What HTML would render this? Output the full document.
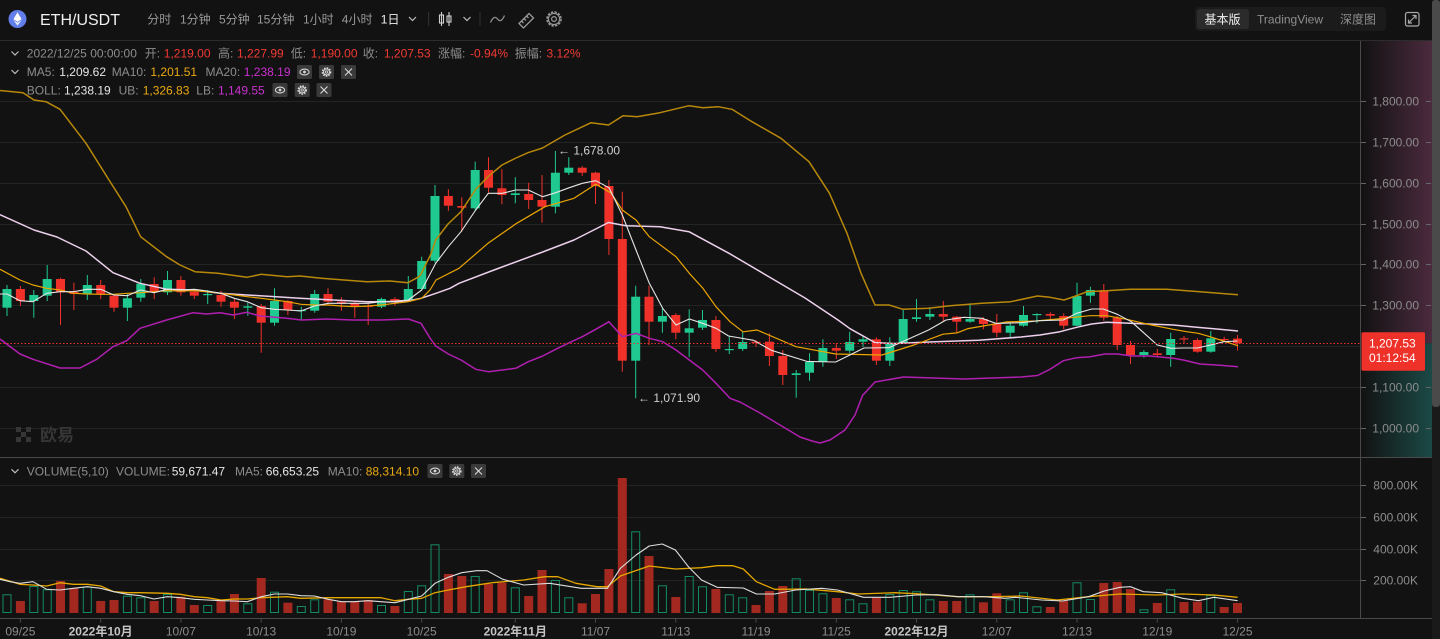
<!DOCTYPE html>
<html><head><meta charset="utf-8"><style>
html,body{margin:0;padding:0;background:#121212;width:1440px;height:639px;overflow:hidden}
svg{display:block;font-family:"Liberation Sans","Noto Sans CJK SC",sans-serif}
</style></head><body>
<svg width="1440" height="639" viewBox="0 0 1440 639" xmlns="http://www.w3.org/2000/svg">
<defs>
<linearGradient id="gp" x1="0" x2="1" y1="0" y2="0"><stop offset="0" stop-color="#4b2a3d" stop-opacity="0"/><stop offset="1" stop-color="#4b2a3d"/></linearGradient>
<linearGradient id="gt" x1="0" x2="1" y1="0" y2="0"><stop offset="0" stop-color="#1b4a46" stop-opacity="0"/><stop offset="1" stop-color="#1b4a46"/></linearGradient>
<g id="eye"><rect width="15" height="14" rx="1.5" fill="#3a3a3a"/><ellipse cx="7.5" cy="7" rx="4.6" ry="2.9" fill="none" stroke="#d8d8d8" stroke-width="1.1"/><circle cx="7.5" cy="7" r="1.4" fill="#d8d8d8"/></g>
<g id="gear"><rect width="15" height="14" rx="1.5" fill="#3a3a3a"/><circle cx="7.5" cy="7" r="4" fill="none" stroke="#d8d8d8" stroke-width="1.6" stroke-dasharray="1.6 1.1"/><circle cx="7.5" cy="7" r="3" fill="none" stroke="#d8d8d8" stroke-width="1"/><circle cx="7.5" cy="7" r="1.2" fill="none" stroke="#d8d8d8" stroke-width="0.9"/></g>
<g id="xx"><rect width="15" height="14" rx="1.5" fill="#3a3a3a"/><path d="M4 3.5L11 10.5M11 3.5L4 10.5" stroke="#d8d8d8" stroke-width="1.1"/></g>
<path id="chev" d="M0 0L3.5 3.5L7 0" fill="none" stroke="#bdbdbd" stroke-width="1.2"/>
</defs>

<!-- right axis gradient -->
<rect x="1361" y="41" width="71" height="302.3" fill="url(#gp)"/>
<rect x="1361" y="343.3" width="71" height="114" fill="url(#gt)"/>
<!-- scrollbar -->
<rect x="1432" y="0" width="8" height="639" fill="#1a1a1a"/>
<rect x="1432" y="0" width="8" height="407" rx="3" fill="#4a4a4a"/>

<!-- top bar -->
<line x1="0" y1="40.5" x2="1432" y2="40.5" stroke="#2c2c2c"/>
<circle cx="17.5" cy="19" r="9" fill="#627eea"/>
<polygon points="17.5,12.3 21.6,19.3 17.5,21.7 13.4,19.3" fill="#fff"/>
<polygon points="17.5,22.6 21.6,20.2 17.5,25.6 13.4,20.2" fill="#fff" opacity="0.85"/>
<text x="40" y="25" font-size="16" fill="#f0f0f0" font-weight="500">ETH/USDT</text>
<g font-size="12" fill="#9a9a9a">
<text x="147.3" y="23.5">分时</text>
<text x="180" y="23.5">1分钟</text>
<text x="219" y="23.5">5分钟</text>
<text x="257" y="23.5">15分钟</text>
<text x="303" y="23.5">1小时</text>
<text x="341.8" y="23.5">4小时</text>
<text x="380.8" y="23.5" fill="#f0f0f0">1日</text>
</g>
<use href="#chev" x="409" y="17"/>
<line x1="428.6" y1="12" x2="428.6" y2="26" stroke="#333"/>
<g stroke="#cfcfcf" stroke-width="1.1" fill="none">
<path d="M441.5 12V26M449 12V26"/><rect x="439.5" y="15" width="4" height="8"/><rect x="447" y="16" width="4" height="6"/>
</g>
<use href="#chev" x="463.5" y="17"/>
<line x1="480" y1="12" x2="480" y2="26" stroke="#333"/>
<path d="M490.5 22.5Q494 14.5 497.5 19Q501 23.5 504.5 15.5" fill="none" stroke="#8a8a8a" stroke-width="1.3"/>
<g stroke="#9a9a9a" stroke-width="1.3" fill="none"><path d="M519 23.5L529 13.5L533.5 18L523.5 28Z M524 18.5L526 20.5M526.5 16L528.5 18M521.5 21L523.5 23"/></g>
<circle cx="554" cy="19" r="7" fill="none" stroke="#9a9a9a" stroke-width="1.5" stroke-dasharray="2.4 1.3"/>
<circle cx="554" cy="19" r="5.6" fill="none" stroke="#9a9a9a" stroke-width="1.1"/>
<circle cx="554" cy="19" r="2.4" fill="none" stroke="#9a9a9a" stroke-width="1.2"/>
<!-- segmented -->
<rect x="1195" y="7" width="191" height="24" rx="4" fill="#1b1b1b"/>
<rect x="1197" y="9" width="52" height="20" rx="3" fill="#2b2b2b"/>
<text x="1222.5" y="23.3" font-size="12" fill="#f0f0f0" text-anchor="middle">基本版</text>
<text x="1290" y="23.3" font-size="12" fill="#8e8e8e" text-anchor="middle">TradingView</text>
<text x="1358" y="23.3" font-size="12" fill="#8e8e8e" text-anchor="middle">深度图</text>
<g stroke="#a8a8a8" stroke-width="1.2" fill="none"><rect x="1405.5" y="12.5" width="13.5" height="13.5" rx="2"/><path d="M1408.5 23L1416 15.5M1412.5 15.5H1416V19M1408.5 19.5V23H1412"/></g>

<!-- legend -->
<use href="#chev" x="11.5" y="51.5"/>
<g font-size="12">
<text x="26.8" y="57.5" fill="#8d8d8d">2022/12/25 00:00:00</text>
<text x="144.7" y="57.5" fill="#8d8d8d">开:</text><text x="163.8" y="57.5" fill="#f23a33">1,219.00</text>
<text x="218" y="57.5" fill="#8d8d8d">高:</text><text x="237" y="57.5" fill="#f23a33">1,227.99</text>
<text x="290.8" y="57.5" fill="#8d8d8d">低:</text><text x="310.8" y="57.5" fill="#f23a33">1,190.00</text>
<text x="362.8" y="57.5" fill="#8d8d8d">收:</text><text x="383.9" y="57.5" fill="#f23a33">1,207.53</text>
<text x="438" y="57.5" fill="#8d8d8d">涨幅:</text><text x="470" y="57.5" fill="#f23a33">-0.94%</text>
<text x="514.7" y="57.5" fill="#8d8d8d">振幅:</text><text x="546.5" y="57.5" fill="#f23a33">3.12%</text>
</g>
<use href="#chev" x="11.5" y="70"/>
<g font-size="12">
<text x="26.8" y="76" fill="#8d8d8d">MA5:</text><text x="59.3" y="76" fill="#e6e6e6">1,209.62</text>
<text x="111.7" y="76" fill="#8d8d8d">MA10:</text><text x="150.4" y="76" fill="#e9a912">1,201.51</text>
<text x="205.5" y="76" fill="#8d8d8d">MA20:</text><text x="243.8" y="76" fill="#c931cf">1,238.19</text>
</g>
<use href="#eye" x="297" y="65"/><use href="#gear" x="319" y="65"/><use href="#xx" x="341" y="65"/>
<g font-size="12">
<text x="26.8" y="94.3" fill="#8d8d8d">BOLL:</text><text x="64" y="94.3" fill="#e6e6e6">1,238.19</text>
<text x="118.6" y="94.3" fill="#8d8d8d">UB:</text><text x="142.7" y="94.3" fill="#e9a912">1,326.83</text>
<text x="196.3" y="94.3" fill="#8d8d8d">LB:</text><text x="218" y="94.3" fill="#c931cf">1,149.55</text>
</g>
<use href="#eye" x="272.5" y="83"/><use href="#gear" x="294.7" y="83"/><use href="#xx" x="316.5" y="83"/>

<!-- gridlines price -->
<g stroke="#242424" stroke-width="1">
<path d="M0 101.5H1360M0 142.5H1360M0 183.5H1360M0 224.5H1360M0 264.5H1360M0 305.5H1360M0 346.5H1360M0 387.5H1360M0 428.5H1360"/>
<path d="M0 485.5H1360M0 517.5H1360M0 549.5H1360M0 580.5H1360"/>
</g>
<!-- ticks -->
<g stroke="#666" stroke-width="1">
<path d="M1361 101.5H1366M1361 142.5H1366M1361 183.5H1366M1361 224.5H1366M1361 264.5H1366M1361 305.5H1366M1361 387.5H1366M1361 428.5H1366"/>
<path d="M1426 101.5H1431M1426 142.5H1431M1426 183.5H1431M1426 224.5H1431M1426 264.5H1431M1426 305.5H1431M1426 387.5H1431M1426 428.5H1431"/>
<path d="M1361 485.5H1366M1361 517.5H1366M1361 549.5H1366M1361 580.5H1366"/>
</g>
<g font-size="12" fill="#8c8c8c" text-anchor="end">
<text x="1419" y="105.5">1,800.00</text>
<text x="1419" y="146.5">1,700.00</text>
<text x="1419" y="187.5">1,600.00</text>
<text x="1419" y="228.5">1,500.00</text>
<text x="1419" y="268.5">1,400.00</text>
<text x="1419" y="309.5">1,300.00</text>
<text x="1419" y="391.5">1,100.00</text>
<text x="1419" y="432.5">1,000.00</text>
<text x="1418" y="489.5">800.00K</text>
<text x="1418" y="521.5">600.00K</text>
<text x="1418" y="553.5">400.00K</text>
<text x="1418" y="584.5">200.00K</text>
</g>

<!-- watermark -->
<g fill="#363636"><rect x="16" y="427" width="5" height="5"/><rect x="26" y="427" width="5" height="5"/><rect x="21" y="432" width="5" height="5"/><rect x="16" y="437" width="5" height="5"/><rect x="26" y="437" width="5" height="5"/></g>
<text x="40" y="441" font-size="17" font-weight="bold" fill="#363636">欧易</text>

<!-- candles green -->
<path fill="none" stroke="#1fc98f" stroke-width="1" d="M7 285V316M33.8 290V317.7M47.2 265V301M87.3 275V300M127.4 294V321M140.8 279V301.7M167.5 271V295M207.7 290V304M247.8 302.7V315.7M274.5 288.3V325.7M301.3 306.7V320M314.7 290V312.7M381.5 297.7V308.3M408.3 276V301.7M421.7 256.7V290M435 185V262.7M475.2 161.7V210.7M515.3 177.3V203.3M555.4 151V213.3M568.8 157.3V175M635.7 285.7V398.3M662.4 308.3V332.7M689.2 309.3V357.3M702.5 310V330M729.3 336V354M742.7 331.7V351M796.2 370V397.7M809.5 353.3V380.7M822.9 339.3V366.7M849.7 331.7V353.3M863 336V346.7M889.8 337.3V366M903.2 309.3V344M916.5 299V321.7M929.9 307.3V320M970 303.3V322.7M1010.2 322.7V337.3M1023.5 306V326.7M1036.9 313.3V323.3M1077 282.7V326M1090.4 286.7V302.7M1143.9 350V357.7M1170.7 332.7V366.7M1210.8 331V352.7"/>
<g fill="#1fc98f">
<rect x="2.5" y="289" width="9" height="18.7"/><rect x="29.3" y="295" width="9" height="6"/><rect x="42.7" y="279" width="9" height="16.7"/><rect x="82.8" y="285" width="9" height="9"/><rect x="122.9" y="298.3" width="9" height="9.4"/><rect x="136.3" y="283.7" width="9" height="14"/><rect x="163" y="280" width="9" height="12.3"/><rect x="203.2" y="294" width="9" height="1.2"/><rect x="243.3" y="306.3" width="9" height="1.4"/><rect x="270" y="301" width="9" height="21.7"/><rect x="296.8" y="310" width="9" height="1.2"/><rect x="310.2" y="294" width="9" height="16.7"/><rect x="377" y="299" width="9" height="7.7"/><rect x="403.8" y="289" width="9" height="11.7"/><rect x="417.2" y="261" width="9" height="28"/><rect x="430.5" y="196" width="9" height="64.7"/><rect x="470.7" y="170" width="9" height="38.3"/><rect x="510.8" y="193.3" width="9" height="1.7"/><rect x="550.9" y="172.7" width="9" height="34"/><rect x="564.3" y="167.7" width="9" height="5"/><rect x="631.2" y="296.7" width="9" height="64"/><rect x="657.9" y="316" width="9" height="5.7"/><rect x="684.7" y="328.3" width="9" height="4.4"/><rect x="698" y="320" width="9" height="7.7"/><rect x="724.8" y="349" width="9" height="1.2"/><rect x="738.2" y="342" width="9" height="7"/><rect x="791.7" y="373.3" width="9" height="1.7"/><rect x="805" y="362" width="9" height="10.7"/><rect x="818.4" y="348" width="9" height="14"/><rect x="845.2" y="342" width="9" height="8.7"/><rect x="858.5" y="339.3" width="9" height="2.4"/><rect x="885.3" y="342.7" width="9" height="18"/><rect x="898.7" y="319" width="9" height="23.7"/><rect x="912" y="317.3" width="9" height="1.7"/><rect x="925.4" y="314" width="9" height="2.7"/><rect x="965.5" y="319" width="9" height="2.7"/><rect x="1005.7" y="325.7" width="9" height="7"/><rect x="1019" y="315" width="9" height="10.7"/><rect x="1032.4" y="314" width="9" height="1.2"/><rect x="1072.5" y="296" width="9" height="29.7"/><rect x="1085.9" y="290" width="9" height="5.7"/><rect x="1139.4" y="352" width="9" height="3"/><rect x="1166.2" y="339" width="9" height="16"/><rect x="1206.3" y="338.3" width="9" height="13.4"/>
</g>
<!-- candles red -->
<path fill="none" stroke="#f0312a" stroke-width="1" d="M20.4 286V306M60.5 277.7V325M73.9 282.7V310M100.7 280V299M114 294V311.7M154.2 277.3V299M180.9 276V295.7M194.3 290V299M221 290.7V306.7M234.4 299V319M261.2 304V352.7M287.9 300V315M328 288.3V305M341.4 297.3V310.7M354.8 301V317.7M368.2 303.3V325M394.9 297.3V305.7M448.4 189.3V210.7M461.8 197.3V231.7M488.5 157.3V192.7M501.9 169.3V204.3M528.7 182.7V209M542 175V222.7M582.2 166V176M595.5 171.7V204M608.9 180V255M622.3 191.7V371.7M649 285.7V345M675.8 313.3V339.3M715.9 316V351.7M756 340V346.7M769.4 333.3V366M782.8 350V385M836.3 343.3V359M876.4 337.3V365M943.3 301V321M956.7 316V332.3M983.4 317.3V329.3M996.8 314V337.3M1050.3 312.3V320M1063.7 313.3V329.3M1103.8 284V320.7M1117.2 316V350M1130.5 341V364M1157.3 349V357.3M1184 336V344M1197.4 338.3V352.7M1224.2 336.7V341.7M1237.5 335V350.5"/>
<g fill="#f0312a">
<rect x="15.9" y="289" width="9" height="12"/><rect x="56" y="279" width="9" height="13.3"/><rect x="69.4" y="292" width="9" height="2"/><rect x="96.2" y="285" width="9" height="9.3"/><rect x="109.5" y="295.7" width="9" height="12"/><rect x="149.7" y="284" width="9" height="8.3"/><rect x="176.4" y="280" width="9" height="12.3"/><rect x="189.8" y="291.7" width="9" height="4"/><rect x="216.5" y="295" width="9" height="6.7"/><rect x="229.9" y="301.7" width="9" height="6"/><rect x="256.7" y="306" width="9" height="16.7"/><rect x="283.4" y="301" width="9" height="9"/><rect x="323.5" y="294" width="9" height="7.7"/><rect x="336.9" y="301.7" width="9" height="1.6"/><rect x="350.3" y="303.3" width="9" height="2.7"/><rect x="363.7" y="305.7" width="9" height="1.2"/><rect x="390.4" y="299" width="9" height="1.7"/><rect x="443.9" y="196" width="9" height="9.7"/><rect x="457.3" y="206" width="9" height="1.7"/><rect x="484" y="170" width="9" height="17.7"/><rect x="497.4" y="188.3" width="9" height="6.7"/><rect x="524.2" y="194" width="9" height="6"/><rect x="537.5" y="200" width="9" height="6.7"/><rect x="577.7" y="167.7" width="9" height="5"/><rect x="591" y="172.7" width="9" height="13.3"/><rect x="604.4" y="186" width="9" height="53"/><rect x="617.8" y="239" width="9" height="121.7"/><rect x="644.5" y="296.7" width="9" height="25"/><rect x="671.3" y="315" width="9" height="17.7"/><rect x="711.4" y="320" width="9" height="29"/><rect x="751.5" y="341.7" width="9" height="1.2"/><rect x="764.9" y="341.7" width="9" height="14.3"/><rect x="778.3" y="356" width="9" height="19"/><rect x="831.8" y="348" width="9" height="2.7"/><rect x="871.9" y="339.3" width="9" height="21.4"/><rect x="938.8" y="314" width="9" height="2.7"/><rect x="952.2" y="316.7" width="9" height="5"/><rect x="978.9" y="319" width="9" height="5"/><rect x="992.3" y="324" width="9" height="8.7"/><rect x="1045.8" y="314" width="9" height="1.7"/><rect x="1059.2" y="316" width="9" height="9.7"/><rect x="1099.3" y="290" width="9" height="27.7"/><rect x="1112.7" y="317.7" width="9" height="27.3"/><rect x="1126" y="345" width="9" height="10"/><rect x="1152.8" y="353.3" width="9" height="1.7"/><rect x="1179.5" y="338.3" width="9" height="1.2"/><rect x="1192.9" y="340" width="9" height="11.7"/><rect x="1219.7" y="339" width="9" height="1.2"/><rect x="1233" y="338.6" width="9" height="4.7"/>
</g>

<!-- indicator lines -->
<g fill="none" stroke-linejoin="round">
<polyline stroke="#b8880a" stroke-width="1.5" points="0,90.5 23,92.7 34,100 46,101.7 60,109.3 86,143.3 109,180 126,206.7 140.6,236.7 166.5,256.7 180,265 195,271.7 218,273.3 247,277.3 261,274.3 287,276.7 300,276 321.5,278.3 344,280 367,281.7 390,281 408,282.7 419,276.7 421,274 430.5,255 435.7,240 448,224 461,211.7 476,189 488,176.7 502,165 516,158 528,152.7 542.5,148 565,135 591,122.7 608.5,125 623,115.7 637,116.7 660,112.7 689,105.7 703,107.7 718,106.7 732,109.3 752,121.7 781,138.3 809,161.7 829.5,193.3 847,233.3 861,273.3 875,305 889,305 903,309.3 928.6,308.3 950,305.7 982,303.3 1010.7,301.7 1037.5,296 1050,297.3 1064,300 1078.6,295 1087,291.7 1106.7,290.7 1130,289.3 1166.7,289.3 1200,291.7 1238,294.7"/>
<polyline stroke="#b01fb0" stroke-width="1.5" points="0,339 20,354 33,359.3 60,368 80,368 96.7,359.3 113,346.7 126.7,340.7 140,328.3 166.7,320 193,312.7 206.7,314 220,312.7 233.3,315 246.7,312.3 260,316 286.7,318.3 301.7,320 326.7,319 353.3,320 380,320 408.3,319 421,323.3 430,338 435.7,346 448.3,354 461,360 475.7,369.3 488.3,371.7 502.3,370 515.7,368.3 528.3,361.7 542.7,356 555.7,349.3 569.3,342.7 582.3,336.7 595.7,329.3 609,321.7 622.3,336.7 636,333.3 649.3,338.3 662.7,341.7 676,350 689.3,360 702.7,370 716,383.3 730,398.3 740,402 760,413 780,425 800,437 812,441 820,443 830,440 845,430 855,415 862.5,395.5 875,382 903.6,377 964,379 1021,377 1037.5,375.5 1050,369.3 1063.3,360.7 1076.7,357.7 1090,356.7 1105,354 1117.3,354 1131.7,356 1150,356 1173.3,358.3 1183.3,360 1200,364 1220,365.3 1238,366.7"/>
<polyline stroke="#ecd0ec" stroke-width="1.5" points="0,214.7 34,230 57,237 86,251 113,272.7 140,283.3 167,289.3 193,290 220,293.3 247,295 300,298.3 333,300 367,301.7 397,301.7 413,300 421,298.3 436,293.3 450,288.3 459,283.3 494,270 540,253 574,240 608.5,222.5 626,225.7 660,226.7 689,231.7 729,253.3 771,278 805,298 838,320 850,328.7 875,342.6 893,343.6 928.6,342 978.6,340.3 1021,337 1040,335 1060,331.7 1076.7,327.3 1091.7,324 1106.7,322.3 1130,323.3 1173.3,325 1196.7,327.3 1216.7,329 1238,331"/>
<polyline stroke="#eaa500" stroke-width="1.2" points="0,269.3 20,280 33,285 46.7,288.3 60,290 73.7,293.3 87.3,294 100.7,294.3 113.7,294.3 127.3,293.3 140.3,292.7 154,291.7 167.3,290.7 180.3,291 194.3,290.7 207.3,291.7 221,293.3 234.3,295 247.3,296.7 261.3,298.3 274.3,300 287.3,301.7 301,304.3 314.3,305 328.3,305 341.3,306 354.3,306.7 368,306 381,305 395,303.3 408.3,301.7 421.7,298.3 430,290 436,280 459,268.3 488,243.3 516.7,223.3 545,206.7 574,198.3 595.7,184.3 600,186.7 611,193 622.3,210 636,220 649.3,236.7 676,256.7 689.3,273.3 702.7,288 716,306.7 730,321.7 743,331.8 757,330 796,346.7 835.7,354 882,355 914,345 943,334.2 957,332.9 968,328.6 1007,321.9 1035.7,321 1064,318.4 1090,315.7 1106.7,315.7 1126.7,319.3 1146.7,324 1173,329.3 1186.7,331.7 1198.3,333.3 1210,336.7 1223.3,341 1238,345.7"/>
<polyline stroke="#e6e6e6" stroke-width="1.1" points="0,294 7,294 20,300.7 33,301.7 46.7,293.3 60,291.7 73.7,291.7 87.3,289.3 100.7,289.3 113.7,295 127.3,295.7 140.3,290 154,292.7 167.3,289.3 180.3,290 194.3,289.3 207.3,291 221,293.3 234.3,298.3 247.3,301.7 261.3,307.7 274.3,309.3 287.3,310 301,311 314.3,306 328.3,303.3 341.3,303.3 354.3,303.3 368,303.3 381,301.7 395,301 408.3,300 421.7,290 435.7,263.3 448.3,246.7 461,231.7 475.7,210 488.3,193.3 502.3,193.3 515.7,190 528.3,190 542.7,196.7 555.7,192.7 569.3,187.7 582.3,183.3 595.7,180.7 609,187.7 622.3,215 636,250 649.3,283.3 662.7,308.3 676,325 689.3,319 702.7,323.3 716,328.3 728.6,336 753.6,340.3 771.4,350.3 807,361.4 835.7,362 864,348 889,347.7 928.6,330 946,320 964,317.3 982,318.3 996,323.4 1021,322.7 1039,320.7 1063.3,320 1076.7,313.3 1091.7,309 1103.3,309 1117.3,314.3 1131.3,321.7 1144.3,333.3 1157.3,345 1171.3,348.3 1184,348 1197.3,348 1210.7,345 1224,341.7 1237.5,341"/>
</g>

<!-- price line & tag -->
<line x1="0" y1="343.5" x2="1361" y2="343.5" stroke="#f0302c" stroke-width="1" stroke-dasharray="1.5 2"/>
<rect x="1361.5" y="332.3" width="63.5" height="38.4" rx="1.5" fill="#ee3129"/>
<text x="1369" y="347.3" font-size="12" fill="#fff">1,207.53</text>
<text x="1369" y="361.8" font-size="12" fill="#fff">01:12:54</text>

<!-- annotations -->
<text x="558" y="154.3" font-size="12" fill="#d0d0d0">← 1,678.00</text>
<text x="638" y="402" font-size="12" fill="#d0d0d0">← 1,071.90</text>

<!-- dividers -->
<line x1="0" y1="457.5" x2="1432" y2="457.5" stroke="#4a4a4a"/>
<line x1="1360.5" y1="41" x2="1360.5" y2="618" stroke="#4a4a4a"/>
<line x1="0" y1="618.5" x2="1432" y2="618.5" stroke="#4a4a4a"/>

<!-- volume legend -->
<use href="#chev" x="11.5" y="469.3"/>
<g font-size="12">
<text x="26.7" y="475.3" fill="#8d8d8d">VOLUME(5,10)</text>
<text x="116" y="475.3" fill="#8d8d8d">VOLUME:</text><text x="171.7" y="475.3" fill="#e6e6e6">59,671.47</text>
<text x="235" y="475.3" fill="#8d8d8d">MA5:</text><text x="265.7" y="475.3" fill="#e6e6e6">66,653.25</text>
<text x="327.7" y="475.3" fill="#8d8d8d">MA10:</text><text x="365.7" y="475.3" fill="#e9a912">88,314.10</text>
</g>
<use href="#eye" x="427.5" y="464"/><use href="#gear" x="449.3" y="464"/><use href="#xx" x="471" y="464"/>

<!-- volume bars green hollow -->
<g fill="none" stroke="#138a63" stroke-width="1">
<rect x="3" y="594.8" width="8" height="17.7"/><rect x="29.8" y="586.5" width="8" height="26"/><rect x="43.2" y="589.8" width="8" height="22.7"/><rect x="83.3" y="587.2" width="8" height="25.3"/><rect x="123.4" y="596.2" width="8" height="16.3"/><rect x="136.8" y="597.8" width="8" height="14.7"/><rect x="163.5" y="594.5" width="8" height="18"/><rect x="203.7" y="605.5" width="8" height="7"/><rect x="243.8" y="603.8" width="8" height="8.7"/><rect x="270.5" y="592.2" width="8" height="20.3"/><rect x="297.3" y="606.5" width="8" height="6"/><rect x="310.7" y="599.8" width="8" height="12.7"/><rect x="377.5" y="605.5" width="8" height="7"/><rect x="404.3" y="591.5" width="8" height="21"/><rect x="417.7" y="585.8" width="8" height="26.7"/><rect x="431" y="544.8" width="8" height="67.7"/><rect x="471.2" y="576.5" width="8" height="36"/><rect x="511.3" y="587.8" width="8" height="24.7"/><rect x="551.4" y="580.5" width="8" height="32"/><rect x="564.8" y="597.8" width="8" height="14.7"/><rect x="631.7" y="531.8" width="8" height="80.7"/><rect x="658.4" y="585.8" width="8" height="26.7"/><rect x="685.2" y="576.5" width="8" height="36"/><rect x="698.5" y="586.8" width="8" height="25.7"/><rect x="725.3" y="594.8" width="8" height="17.7"/><rect x="738.7" y="597.8" width="8" height="14.7"/><rect x="792.2" y="578.8" width="8" height="33.7"/><rect x="805.5" y="590.5" width="8" height="22"/><rect x="818.9" y="593.8" width="8" height="18.7"/><rect x="845.7" y="599.8" width="8" height="12.7"/><rect x="859" y="603.8" width="8" height="8.7"/><rect x="885.8" y="594.5" width="8" height="18"/><rect x="899.2" y="590.5" width="8" height="22"/><rect x="912.5" y="591.8" width="8" height="20.7"/><rect x="925.9" y="599.8" width="8" height="12.7"/><rect x="966" y="594.8" width="8" height="17.7"/><rect x="1006.2" y="599.8" width="8" height="12.7"/><rect x="1019.5" y="592.8" width="8" height="19.7"/><rect x="1032.9" y="606.8" width="8" height="5.7"/><rect x="1073" y="582.8" width="8" height="29.7"/><rect x="1086.4" y="599.5" width="8" height="13"/><rect x="1139.9" y="609.8" width="8" height="2.7"/><rect x="1166.7" y="589.8" width="8" height="22.7"/><rect x="1206.8" y="595.5" width="8" height="17"/>
</g>
<!-- volume bars red -->
<g fill="#a3281f">
<rect x="15.9" y="601" width="9" height="12"/><rect x="56" y="581" width="9" height="32"/><rect x="69.4" y="588.3" width="9" height="24.7"/><rect x="96.2" y="601" width="9" height="12"/><rect x="109.5" y="600" width="9" height="13"/><rect x="149.7" y="601" width="9" height="12"/><rect x="176.4" y="596.7" width="9" height="16.3"/><rect x="189.8" y="605" width="9" height="8"/><rect x="216.5" y="600.7" width="9" height="12.3"/><rect x="229.9" y="594" width="9" height="19"/><rect x="256.7" y="578" width="9" height="35"/><rect x="283.4" y="602.7" width="9" height="10.3"/><rect x="323.5" y="599.3" width="9" height="13.7"/><rect x="336.9" y="601.7" width="9" height="11.3"/><rect x="350.3" y="601.7" width="9" height="11.3"/><rect x="363.7" y="600" width="9" height="13"/><rect x="390.4" y="606" width="9" height="7"/><rect x="443.9" y="574" width="9" height="39"/><rect x="457.3" y="576" width="9" height="37"/><rect x="484" y="584" width="9" height="29"/><rect x="497.4" y="582.7" width="9" height="30.3"/><rect x="524.2" y="596" width="9" height="17"/><rect x="537.5" y="570" width="9" height="43"/><rect x="577.7" y="603.3" width="9" height="9.7"/><rect x="591" y="594" width="9" height="19"/><rect x="604.4" y="569" width="9" height="44"/><rect x="617.8" y="478" width="9" height="135"/><rect x="644.5" y="556" width="9" height="57"/><rect x="671.3" y="597" width="9" height="16"/><rect x="711.4" y="589" width="9" height="24"/><rect x="751.5" y="605" width="9" height="8"/><rect x="764.9" y="591" width="9" height="22"/><rect x="778.3" y="586" width="9" height="27"/><rect x="831.8" y="598" width="9" height="15"/><rect x="871.9" y="597.7" width="9" height="15.3"/><rect x="938.8" y="601" width="9" height="12"/><rect x="952.2" y="601" width="9" height="12"/><rect x="978.9" y="602.3" width="9" height="10.7"/><rect x="992.3" y="593.3" width="9" height="19.7"/><rect x="1045.8" y="607" width="9" height="6"/><rect x="1059.2" y="601" width="9" height="12"/><rect x="1099.3" y="583" width="9" height="30"/><rect x="1112.7" y="582" width="9" height="31"/><rect x="1126" y="589" width="9" height="24"/><rect x="1152.8" y="603" width="9" height="10"/><rect x="1179.5" y="602" width="9" height="11"/><rect x="1192.9" y="601.7" width="9" height="11.3"/><rect x="1219.7" y="607" width="9" height="6"/><rect x="1233" y="603" width="9" height="10"/>
</g>
<!-- volume MAs -->
<g fill="none" stroke-linejoin="round">
<polyline stroke="#e6a700" stroke-width="1.3" points="0,578.3 20,584.3 33,585 46.7,586 60,582.7 73.3,584.3 87.3,584.3 100.7,586 113.7,591.7 127.3,592.7 140.3,592.7 167.3,593.3 180.3,594.3 194.3,596.7 207.3,597.7 221,600 234.3,599 247.3,599 261.3,597.7 287.3,596.7 301,598.3 328.3,597.7 354.3,597.7 381,597.7 395,600.7 408.3,599.3 421.7,598.3 435,592.7 448.3,590 466.2,586.7 492.3,582.7 523.7,580 544.6,576.7 557.7,576.7 575.9,583.3 596.9,586.7 607.4,586.7 620.4,576 649.2,566 675.4,569 701.5,567.7 717.2,565.7 732.9,565.7 743.3,569 756.4,581.7 774.7,589.3 806.1,589 837.5,591.7 858.4,594 895,592.7 921.2,594 957.8,596.7 994.4,596.7 1020.6,596 1057.2,600 1088.5,596.7 1119.9,594 1156.5,595 1182.7,594 1214,595 1237.6,597.3"/>
<polyline stroke="#dedede" stroke-width="1.1" points="0,579.3 10,581.7 20,583.3 33,581.7 46.7,589.3 60,590 73.3,588.3 87.3,586.7 100.7,588.3 113.7,591.7 127.3,594.3 140.3,595.7 154,599 167.3,596.7 180.3,597.7 194.3,599.3 207.3,600 221,600.7 234.3,601 247.3,601.7 261.3,596.7 274.3,594 287.3,594 301,595.7 314.3,596 328.3,599.3 341.3,601.7 354.3,601.7 368,600.7 381,601.7 395,602.7 408.3,599.3 421.7,596 435,583.3 448.3,577.3 461.7,572.7 476.6,570.7 487,570.7 502.8,579.3 523.7,585 549.8,583.3 581.2,588.3 607.4,588.3 620.4,568.3 636.1,555 649.2,546 662.3,544 675.4,550 688.4,566.7 701.5,580 717.2,587.3 743.3,588 756.4,594 774.7,594 795.6,590 821.8,588.3 837.5,590 863.6,597.3 889.8,597.3 916,595 936.9,594.7 957.8,596.7 984,596.7 1004.8,598.3 1015.3,597.3 1041.5,600 1062.4,601 1088.5,596.7 1104.2,591 1119.9,587.3 1130.4,586.7 1143.4,591.7 1161.7,592.7 1182.7,598.3 1198.4,600.7 1214,597.3 1237.6,600.7"/>
</g>

<!-- x axis ticks & labels -->
<path stroke="#4a4a4a" d="M20.4 618V622.5M100.65 618V622.5M180.9 618V622.5M261.15 618V622.5M341.4 618V622.5M421.65 618V622.5M515.28 618V622.5M595.53 618V622.5M675.78 618V622.5M756.03 618V622.5M836.28 618V622.5M916.53 618V622.5M996.78 618V622.5M1077.03 618V622.5M1157.28 618V622.5M1237.53 618V622.5"/>
<g font-size="12" fill="#8c8c8c" text-anchor="middle">
<text x="20.4" y="635.5">09/25</text>
<text x="100.65" y="635.5" font-weight="bold" fill="#c4c4c4">2022年10月</text>
<text x="180.9" y="635.5">10/07</text>
<text x="261.15" y="635.5">10/13</text>
<text x="341.4" y="635.5">10/19</text>
<text x="421.65" y="635.5">10/25</text>
<text x="515.28" y="635.5" font-weight="bold" fill="#c4c4c4">2022年11月</text>
<text x="595.53" y="635.5">11/07</text>
<text x="675.78" y="635.5">11/13</text>
<text x="756.03" y="635.5">11/19</text>
<text x="836.28" y="635.5">11/25</text>
<text x="916.53" y="635.5" font-weight="bold" fill="#c4c4c4">2022年12月</text>
<text x="996.78" y="635.5">12/07</text>
<text x="1077.03" y="635.5">12/13</text>
<text x="1157.28" y="635.5">12/19</text>
<text x="1237.53" y="635.5">12/25</text>
</g>
</svg>
</body></html>
